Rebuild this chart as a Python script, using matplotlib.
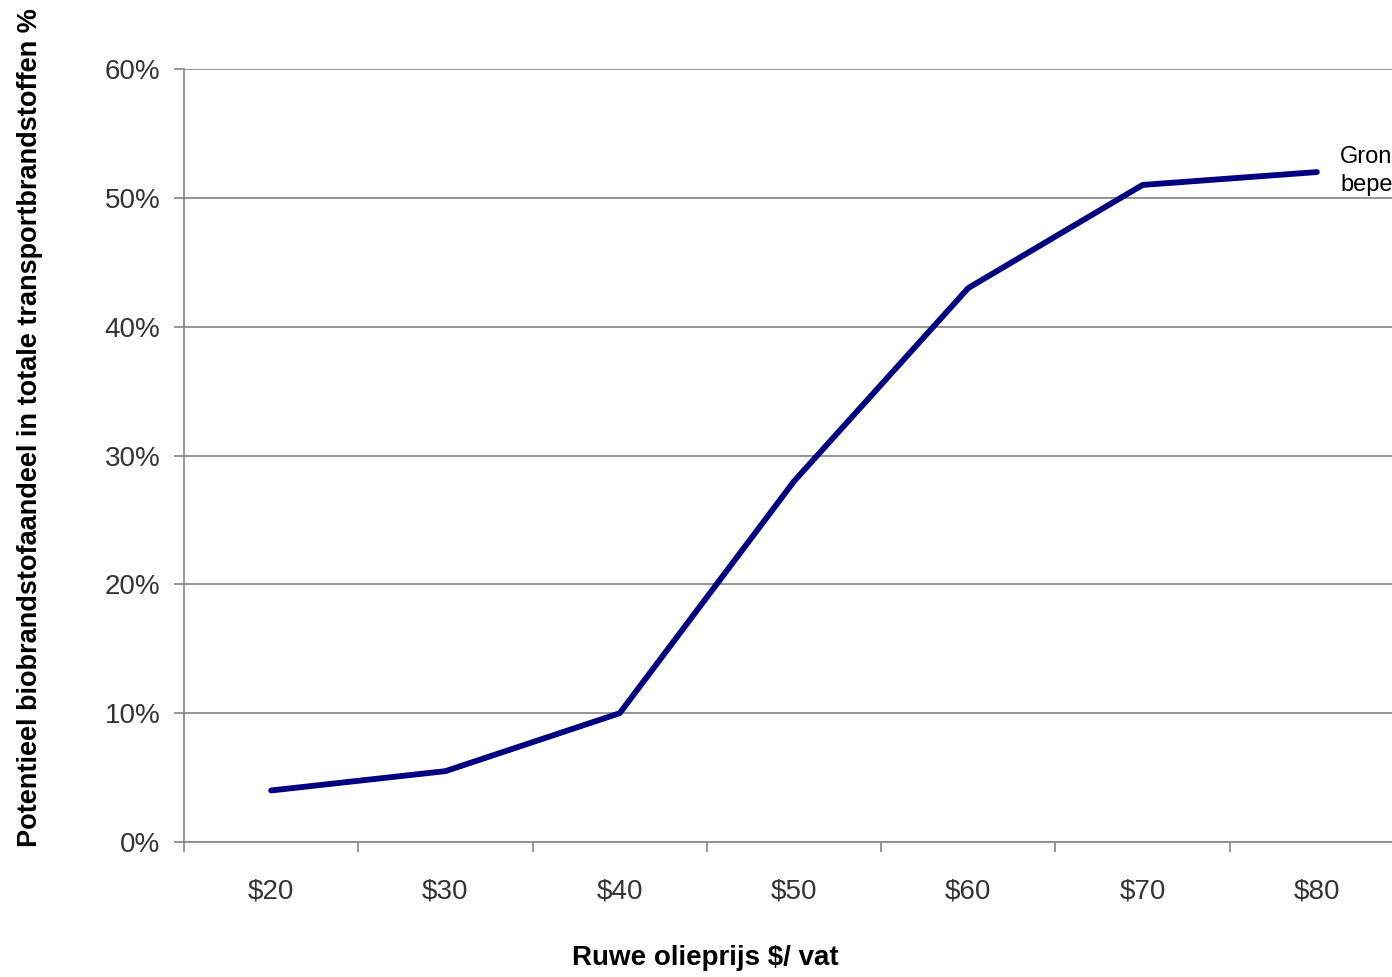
import numpy as np
import matplotlib.pyplot as plt
from matplotlib.ticker import FixedLocator, PercentFormatter

# Data
prices = ['$20', '$30', '$40', '$50', '$60', '$70', '$80']
share = [4.0, 5.5, 10.0, 28.0, 43.0, 51.0, 52.0]
series_label = 'Grond\nbeperking'

plt.rcParams['font.family'] = ['Liberation Sans', 'DejaVu Sans']

fig = plt.figure(figsize=(13.92, 9.77), dpi=100)
ax = fig.add_axes([184 / 1392, 1 - 842 / 977, (1404 - 184) / 1392, (842 - 69) / 977])

x = np.arange(len(prices))
ax.plot(x, share, color='#000080', linewidth=4.2, solid_capstyle='round', zorder=3)

ax.set_xlim(-0.5, len(prices) - 0.5)
ax.set_ylim(0, 60)

# y axis
ax.set_yticks(np.arange(0, 61, 10))
ax.yaxis.set_major_formatter(PercentFormatter(decimals=0))
ax.grid(axis='y', color='#8c8c8c', linewidth=1.3)
ax.set_axisbelow(True)

# x axis: boundary ticks, labels at category centres
ax.xaxis.set_major_locator(FixedLocator(np.arange(-0.5, len(prices), 1.0)))
ax.xaxis.set_major_formatter(plt.NullFormatter())
ax.xaxis.set_minor_locator(FixedLocator(x))
ax.set_xticklabels(prices, minor=True)
ax.tick_params(axis='x', which='major', length=7, width=1.3, color='#8c8c8c')
ax.tick_params(axis='x', which='minor', length=0, pad=26, labelsize=20, labelcolor='#333333')
ax.tick_params(axis='y', length=7, width=1.3, color='#8c8c8c', pad=10,
               labelsize=20, labelcolor='#333333')

for s in ['top', 'right']:
    ax.spines[s].set_visible(False)
for s in ['left', 'bottom']:
    ax.spines[s].set_color('#8c8c8c')
    ax.spines[s].set_linewidth(1.3)

ax.set_xlabel('Ruwe olieprijs $/ vat', fontsize=20, fontweight='bold')
ax.xaxis.set_label_coords((705 - 184) / 1220, (842 - 958) / 773)
ax.xaxis.label.set_va('center')
ax.set_ylabel('Potentieel biobrandstofaandeel in totale transportbrandstoffen %',
              fontsize=19.5, fontweight='bold')
ax.yaxis.set_label_coords((30 - 184) / 1220, (842 - 428) / 773)
ax.yaxis.label.set_va('center')

# series label at the line end
ax.annotate(series_label, xy=(x[-1], share[-1]), xytext=(1340 / 1392, 1 - 171 / 977),
            textcoords='figure fraction', fontsize=17, va='center', ha='left',
            linespacing=1.4, annotation_clip=False)

fig.savefig('out.png', dpi=100)
